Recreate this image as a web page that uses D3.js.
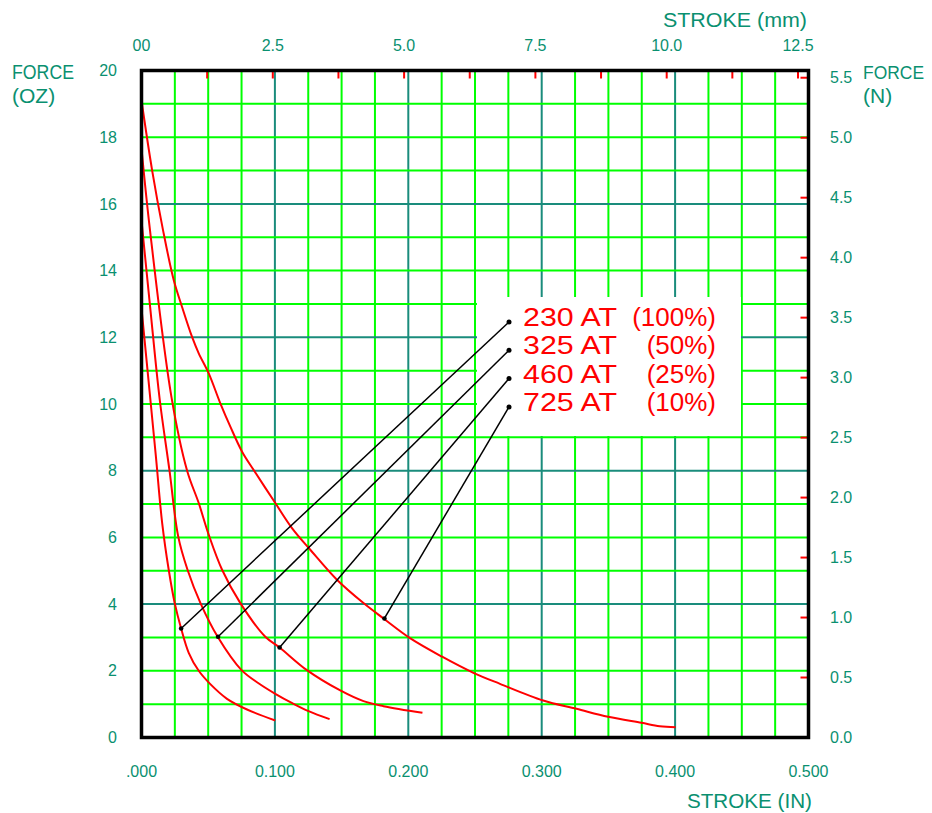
<!DOCTYPE html>
<html>
<head>
<meta charset="utf-8">
<script src="https://cdn.jsdelivr.net/npm/d3@7"></script>
<style>
  html, body { margin: 0; padding: 0; background: #ffffff; }
  svg { display: block; }
  text { font-family: "Liberation Sans", Arial, sans-serif; }
</style>
</head>
<body>
<svg id="chart" width="932" height="813"></svg>
<script>
// ---------------- DATA ----------------
const inchTicks = [0, 0.1, 0.2, 0.3, 0.4, 0.5];
const inchTickLabels = [".000", "0.100", "0.200", "0.300", "0.400", "0.500"];
const mmTicks = [0, 2.5, 5.0, 7.5, 10.0, 12.5];
const mmTickLabels = ["00", "2.5", "5.0", "7.5", "10.0", "12.5"];
const mmMinorTicks = [0, 1.25, 2.5, 3.75, 5.0, 6.25, 7.5, 8.75, 10.0, 11.25, 12.5];
const ozTicks = [0, 2, 4, 6, 8, 10, 12, 14, 16, 18, 20];
const nTicks = [0, 0.5, 1.0, 1.5, 2.0, 2.5, 3.0, 3.5, 4.0, 4.5, 5.0, 5.5];

const seriesNames = ["230 AT", "325 AT", "460 AT", "725 AT"];
const seriesPercents = ["(100%)", "(50%)", "(25%)", "(10%)"];

// [stroke (in), force (oz)]
const curve230 = [[0,12.87],[0.006,10.4],[0.0108,8.42],[0.0155,6.43],[0.0204,5.03],[0.0249,4.03],
  [0.0297,3.27],[0.0354,2.54],[0.0429,2.0],[0.0516,1.6],[0.0641,1.16],[0.0791,0.84],[0.1003,0.51]];
const curve325 = [[0,15.5],[0.0065,12.9],[0.0137,10.12],[0.021,8.0],[0.0275,6.03],[0.0345,5.03],
  [0.0442,4.03],[0.0571,3.02],[0.075,2.02],[0.088,1.62],[0.1003,1.31],[0.113,1.03],[0.1252,0.79],[0.141,0.55]];
const curve460 = [[0,17.66],[0.0064,15.2],[0.0225,10.2],[0.0342,8.0],[0.0429,7.03],[0.0504,6.08],
  [0.0604,5.03],[0.0741,4.03],[0.0928,3.02],[0.1035,2.7],[0.124,2.02],[0.149,1.41],[0.1664,1.09],
  [0.1814,0.94],[0.2106,0.74]];
const curve725 = [[0,19.1],[0.008,17.0],[0.0162,15.2],[0.0242,13.71],[0.0304,12.91],[0.0379,12.01],
  [0.0429,11.52],[0.0504,10.92],[0.0591,10.02],[0.0666,9.32],[0.0754,8.57],[0.0841,8.02],[0.1003,7.03],
  [0.1128,6.28],[0.1265,5.63],[0.1465,4.73],[0.1664,4.03],[0.1814,3.57],[0.2013,2.98],[0.225,2.43],
  [0.2488,1.94],[0.2687,1.61],[0.3011,1.11],[0.3261,0.86],[0.3498,0.62],[0.3748,0.44],[0.3885,0.34],
  [0.4004,0.31]];
const curves = [curve230, curve325, curve460, curve725];

// points on each curve where the legend leader line starts [in, oz]
const leaderPoints = [[0.0297,3.27],[0.0574,3.02],[0.1035,2.70],[0.1821,3.57]];

// ---------------- LAYOUT ----------------
const L = 141.5, R = 808.5, T = 70.5, B = 737.5;
const TEAL_TEXT = "#0a9070";
const GREEN = "#00ff00";
const TEAL_LINE = "#1a8c7c";

const x = d3.scaleLinear().domain([0, 0.5]).range([L, R]);
const y = d3.scaleLinear().domain([0, 20]).range([B, T]);
const xmm = d3.scaleLinear().domain([0, 0.5 * 25.4]).range([L, R]);
const yN = d3.scaleLinear().domain([0, 20 * 0.2780139]).range([B, T]);

const svg = d3.select("#chart");

// ---------------- GRID ----------------
const vLines = d3.range(1, 20).map(i => i * 0.025);
const hLines = d3.range(1, 20);
const grid = svg.append("g");
grid.selectAll("line.v").data(vLines).join("line")
  .attr("x1", d => x(d)).attr("x2", d => x(d)).attr("y1", T).attr("y2", B)
  .attr("stroke", (d, i) => ((i + 1) % 4 === 0 ? TEAL_LINE : GREEN)).attr("stroke-width", 2);
grid.selectAll("line.h").data(hLines).join("line")
  .attr("y1", d => y(d)).attr("y2", d => y(d)).attr("x1", L).attr("x2", R)
  .attr("stroke", d => (d % 4 === 0 ? TEAL_LINE : GREEN)).attr("stroke-width", 2);

// ---------------- LEGEND BOX ----------------
const legendBox = { x: 477, y: 297, w: 264, h: 139 };
svg.append("rect").attr("x", legendBox.x).attr("y", legendBox.y)
  .attr("width", legendBox.w).attr("height", legendBox.h).attr("fill", "#ffffff");

// ---------------- CURVES ----------------
const line = d3.line().x(d => x(d[0])).y(d => y(d[1])).curve(d3.curveCatmullRom.alpha(0.5));
svg.append("g").selectAll("path").data(curves).join("path")
  .attr("d", line).attr("fill", "none").attr("stroke", "#ff0000").attr("stroke-width", 2);

// ---------------- LEGEND ----------------
const legend = { dotX: 509, firstY: 322, gap: 28.3, nameX: 523, pctEnd: 716 };
const lg = svg.append("g");
seriesNames.forEach((name, i) => {
  const ry = legend.firstY + i * legend.gap;
  lg.append("line")
    .attr("x1", x(leaderPoints[i][0])).attr("y1", y(leaderPoints[i][1]))
    .attr("x2", legend.dotX).attr("y2", ry)
    .attr("stroke", "#000").attr("stroke-width", 1.5);
  lg.append("circle").attr("cx", legend.dotX).attr("cy", ry).attr("r", 2.5).attr("fill", "#000");
  lg.append("circle").attr("cx", x(leaderPoints[i][0])).attr("cy", y(leaderPoints[i][1])).attr("r", 2.3).attr("fill", "#000");
  lg.append("text").attr("x", legend.nameX).attr("y", ry + 4)
    .attr("font-size", 26).attr("fill", "#ff0000")
    .attr("textLength", 94).attr("lengthAdjust", "spacingAndGlyphs").text(name);
  lg.append("text").attr("x", legend.pctEnd).attr("y", ry + 4)
    .attr("font-size", 26).attr("fill", "#ff0000").attr("text-anchor", "end").text(seriesPercents[i]);
});

// ---------------- RED TICKS ----------------
svg.append("g").selectAll("line").data(mmMinorTicks).join("line")
  .attr("x1", d => xmm(d)).attr("x2", d => xmm(d)).attr("y1", T).attr("y2", T + 8)
  .attr("stroke", "#ff0000").attr("stroke-width", 2);
svg.append("g").selectAll("line").data(nTicks).join("line")
  .attr("x1", R - 8).attr("x2", R).attr("y1", d => yN(d)).attr("y2", d => yN(d))
  .attr("stroke", "#ff0000").attr("stroke-width", 2);

// ---------------- FRAME ----------------
svg.append("rect").attr("x", L).attr("y", T).attr("width", R - L).attr("height", B - T)
  .attr("fill", "none").attr("stroke", "#000").attr("stroke-width", 3.5);

// ---------------- AXIS LABELS ----------------
const lab = svg.append("g").attr("fill", TEAL_TEXT).attr("font-size", 16);
lab.selectAll("text.oz").data(ozTicks).join("text")
  .attr("x", 117).attr("y", d => y(d)).attr("dy", "0.35em").attr("text-anchor", "end").text(d => d);
lab.selectAll("text.n").data(nTicks).join("text")
  .attr("x", 830).attr("y", d => yN(d)).attr("dy", "0.35em").text(d => d3.format(".1f")(d));
lab.selectAll("text.in").data(inchTicks).join("text")
  .attr("x", d => x(d)).attr("y", 771.5).attr("dy", "0.35em").attr("text-anchor", "middle")
  .text((d, i) => inchTickLabels[i]);
lab.selectAll("text.mm").data(mmTicks).join("text")
  .attr("x", d => xmm(d)).attr("y", 45).attr("dy", "0.35em").attr("text-anchor", "middle")
  .text((d, i) => mmTickLabels[i]);

// titles
const tt = svg.append("g").attr("fill", TEAL_TEXT).attr("font-size", 21);
tt.append("text").attr("x", 12).attr("y", 79).attr("textLength", 62).attr("lengthAdjust", "spacingAndGlyphs").text("FORCE");
tt.append("text").attr("x", 12).attr("y", 103).text("(OZ)");
tt.append("text").attr("x", 863).attr("y", 79).attr("font-size", 19).attr("textLength", 61).attr("lengthAdjust", "spacingAndGlyphs").text("FORCE");
tt.append("text").attr("x", 863).attr("y", 103).text("(N)");
tt.append("text").attr("x", 807).attr("y", 27).attr("text-anchor", "end").attr("font-size", 20)
  .attr("textLength", 144).attr("lengthAdjust", "spacingAndGlyphs").text("STROKE  (mm)");
tt.append("text").attr("x", 812).attr("y", 808).attr("text-anchor", "end").attr("font-size", 20)
  .attr("textLength", 125).attr("lengthAdjust", "spacingAndGlyphs").text("STROKE  (IN)");
</script>
</body>
</html>
